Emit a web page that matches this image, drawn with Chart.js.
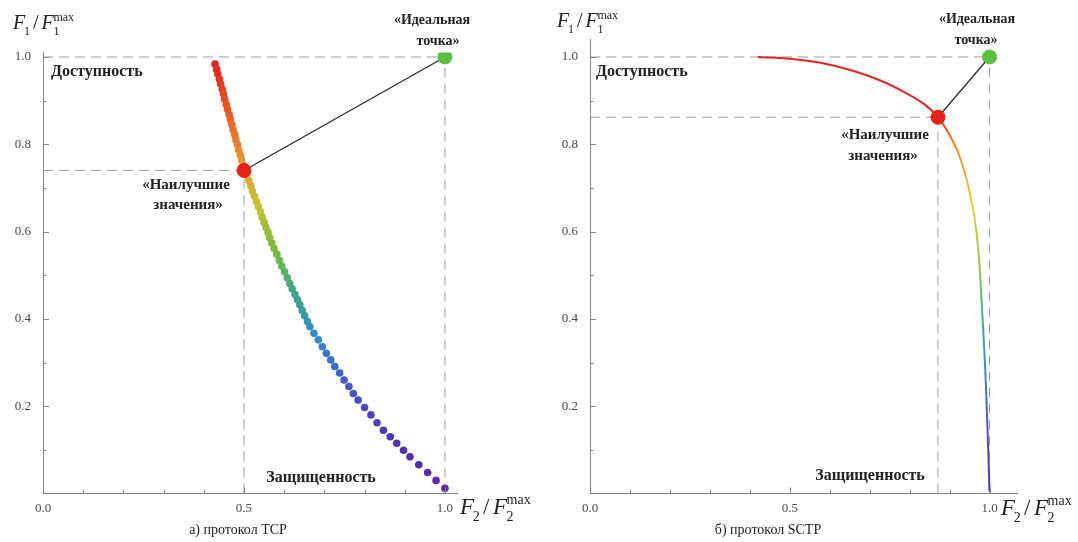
<!DOCTYPE html>
<html>
<head>
<meta charset="utf-8">
<script src="https://cdn.jsdelivr.net/npm/chart.js@4.4.0/dist/chart.umd.min.js"></script>
<style>
  html, body { margin: 0; padding: 0; background: #fff; }
  #wrap { position: relative; width: 1078px; height: 542px; }
  .box { position: absolute; top: 0; height: 542px; }
  #boxL { left: 0; width: 540px; }
  #boxR { left: 540px; width: 538px; }
</style>
</head>
<body>
<div id="wrap">
  <div class="box" id="boxL"><canvas id="tcpChart"></canvas></div>
  <div class="box" id="boxR"><canvas id="sctpChart"></canvas></div>
</div>
<script>
// ========================== Data ==========================

// а) TCP – Pareto front, F2/F2max (x) and F1/F1max (y), one value per dot
const tcpF2 = [
  0.428, 0.432, 0.435, 0.439, 0.442, 0.446, 0.449, 0.452, 0.456, 0.459, 0.463,
  0.466, 0.470, 0.473, 0.477, 0.480, 0.484, 0.487, 0.491, 0.494, 0.498, 0.502,
  0.507, 0.512, 0.517, 0.521, 0.526, 0.531, 0.536, 0.541, 0.545, 0.550, 0.555,
  0.560, 0.564, 0.569, 0.575, 0.582, 0.588, 0.594, 0.601, 0.608, 0.614, 0.620,
  0.627, 0.633, 0.639, 0.645, 0.651, 0.658, 0.664, 0.674, 0.685, 0.695, 0.705,
  0.716, 0.726, 0.738, 0.749, 0.761, 0.772, 0.784, 0.800, 0.816, 0.831, 0.847,
  0.864, 0.880, 0.897, 0.913, 0.935, 0.957, 0.978, 1.000
];
const tcpF1 = [
  0.984, 0.972, 0.961, 0.949, 0.938, 0.926, 0.915, 0.903, 0.891, 0.880, 0.868,
  0.857, 0.845, 0.833, 0.822, 0.810, 0.799, 0.787, 0.775, 0.764, 0.752, 0.741,
  0.729, 0.717, 0.705, 0.693, 0.681, 0.669, 0.657, 0.645, 0.633, 0.621, 0.609,
  0.598, 0.586, 0.574, 0.561, 0.548, 0.534, 0.521, 0.508, 0.494, 0.481, 0.469,
  0.456, 0.444, 0.432, 0.419, 0.407, 0.394, 0.382, 0.367, 0.352, 0.336, 0.321,
  0.306, 0.291, 0.276, 0.260, 0.245, 0.229, 0.214, 0.197, 0.180, 0.162, 0.145,
  0.130, 0.115, 0.099, 0.084, 0.066, 0.048, 0.030, 0.012
];

// б) SCTP – Pareto front drawn as a curve
const sctpF2 = [0.42, 0.50, 0.58, 0.66, 0.73, 0.79, 0.835, 0.871, 0.897, 0.922, 0.945, 0.962, 0.972, 0.980, 0.989, 0.995, 1.000];
const sctpF1 = [1.00, 0.996, 0.986, 0.968, 0.945, 0.918, 0.893, 0.862, 0.826, 0.780, 0.711, 0.633, 0.558, 0.443, 0.290, 0.145, 0.005];

const idealPoint = [1.0, 1.0];
const tcpBest = [0.50, 0.74];
const sctpBest = [0.871, 0.862];

const xTickValues = [0, 0.5, 1.0];
const yTickValues = [0.2, 0.4, 0.6, 0.8, 1.0];
const xSmallTicks = [0.1, 0.2, 0.3, 0.4, 0.5, 0.6, 0.7, 0.8, 0.9, 1.0];
const ySmallTicks = [0.1, 0.2, 0.3, 0.4, 0.5, 0.6, 0.7, 0.8, 0.9, 1.0];

// ========================== Styles ==========================

const SERIF = '"Liberation Serif", "DejaVu Serif", serif';
const AXIS = '#8c8282';
const GUIDE = '#a39a9a';
const TEXT = '#222';

// colour along the front, keyed by F1 value (top red -> bottom violet)
const RAINBOW = [
  [1.00, [222, 28, 30]],
  [0.88, [232, 88, 36]],
  [0.76, [234, 150, 48]],
  [0.66, [196, 196, 52]],
  [0.56, [122, 186, 62]],
  [0.46, [62, 168, 128]],
  [0.36, [52, 140, 200]],
  [0.26, [66, 92, 200]],
  [0.13, [82, 52, 178]],
  [0.00, [96, 40, 166]]
];

function rainbowAt(v) {
  for (let i = 0; i < RAINBOW.length - 1; i++) {
    const [v0, c0] = RAINBOW[i];
    const [v1, c1] = RAINBOW[i + 1];
    if (v <= v0 && v >= v1) {
      const t = (v0 - v) / (v0 - v1);
      const c = c0.map((a, k) => Math.round(a + (c1[k] - a) * t));
      return `rgb(${c[0]},${c[1]},${c[2]})`;
    }
  }
  return 'rgb(96,40,166)';
}

const SCTP_STOPS = [
  [1.00, '#e0261f'], [0.87, '#e0261f'], [0.80, '#ef8a2a'], [0.66, '#e8cf3a'],
  [0.50, '#8cc24a'], [0.40, '#3fae9a'], [0.28, '#3f86d0'], [0.15, '#4a52c0'], [0.00, '#5a2ea8']
];

function toPoints(xs, ys) {
  return xs.map((x, i) => ({ x, y: ys[i] }));
}

// ========================== Plugins ==========================

function drawRatio(ctx, x, y, sub, size) {
  ctx.save();
  ctx.fillStyle = TEXT;
  ctx.textBaseline = 'alphabetic';
  ctx.textAlign = 'left';
  const small = Math.round(size * 0.6);
  ctx.font = `italic ${size}px ${SERIF}`;
  ctx.fillText('F', x, y);
  x += ctx.measureText('F').width - size * 0.06;
  ctx.font = `${small}px ${SERIF}`;
  ctx.fillText(sub, x, y + size * 0.3);
  x += ctx.measureText(sub).width + size * 0.15;
  ctx.font = `${size}px ${SERIF}`;
  ctx.fillText('/', x, y);
  x += ctx.measureText('/').width + size * 0.15;
  ctx.font = `italic ${size}px ${SERIF}`;
  ctx.fillText('F', x, y);
  x += ctx.measureText('F').width - size * 0.02;
  ctx.font = `${small}px ${SERIF}`;
  ctx.fillText(sub, x, y + size * 0.3);
  ctx.fillText('max', x, y - size * 0.42);
  ctx.restore();
}

const decorPlugin = {
  id: 'decor',
  afterDraw(chart, args, opts) {
    const { ctx, chartArea, scales } = chart;
    const xs = scales.x, ys = scales.y;
    ctx.save();
    // inward tick marks
    ctx.strokeStyle = AXIS;
    ctx.lineWidth = 1;
    ctx.beginPath();
    xSmallTicks.forEach(v => {
      const px = Math.round(xs.getPixelForValue(v)) + 0.5;
      const len = xTickValues.includes(v) ? 6 : 3.5;
      ctx.moveTo(px, chartArea.bottom);
      ctx.lineTo(px, chartArea.bottom - len);
    });
    ySmallTicks.forEach((v, i) => {
      const py = Math.round(ys.getPixelForValue(v)) + 0.5;
      const len = (i % 2 === 1) ? 6 : 3.5;
      ctx.moveTo(chartArea.left, py);
      ctx.lineTo(chartArea.left + len, py);
    });
    ctx.stroke();

    // axis titles
    drawRatio(ctx, opts.yTitle[0], opts.yTitle[1], '1', 20);
    drawRatio(ctx, opts.xTitle[0], opts.xTitle[1], '2', 23);

    // annotations
    ctx.fillStyle = TEXT;
    ctx.textBaseline = 'middle';
    opts.notes.forEach(n => {
      ctx.font = `${n.bold ? 'bold ' : ''}${n.size}px ${SERIF}`;
      ctx.textAlign = n.align || 'left';
      ctx.fillText(n.text, n.x, n.y);
    });
    ctx.restore();
  }
};

// ========================== Chart factory ==========================

function makeChart(canvasId, cfg) {
  const ctx = document.getElementById(canvasId).getContext('2d');
  const best = cfg.best;
  const guides = [
    { pts: [{ x: 0, y: idealPoint[1] }, { x: idealPoint[0], y: idealPoint[1] }] },
    { pts: [{ x: idealPoint[0], y: 0 }, { x: idealPoint[0], y: idealPoint[1] }] },
    { pts: [{ x: 0, y: best[1] }, { x: best[0], y: best[1] }] },
    { pts: [{ x: best[0], y: 0 }, { x: best[0], y: best[1] }] }
  ];

  const datasets = [
    {
      label: 'ideal',
      data: [{ x: idealPoint[0], y: idealPoint[1] }],
      showLine: false,
      pointRadius: 7,
      pointBackgroundColor: '#5cbf3e',
      pointBorderColor: '#5cbf3e',
      order: 0
    },
    {
      label: 'best',
      data: [{ x: best[0], y: best[1] }],
      showLine: false,
      pointRadius: 7,
      pointBackgroundColor: '#e5211c',
      pointBorderColor: '#e5211c',
      order: 1
    },
    {
      label: 'link',
      data: [{ x: best[0], y: best[1] }, { x: idealPoint[0], y: idealPoint[1] }],
      showLine: true,
      borderColor: '#2c2c2c',
      borderWidth: 1.3,
      pointRadius: 0,
      order: 2
    },
    cfg.front,
    ...guides.map((g, i) => ({
      label: 'guide' + i,
      data: g.pts,
      showLine: true,
      borderColor: GUIDE,
      borderWidth: 1,
      borderDash: [10, 6],
      pointRadius: 0,
      order: 10 + i
    }))
  ];

  return new Chart(ctx, {
    type: 'scatter',
    data: { datasets },
    options: {
      responsive: true,
      maintainAspectRatio: false,
      animation: false,
      events: [],
      layout: { padding: cfg.padding },
      plugins: {
        legend: { display: false },
        tooltip: { enabled: false },
        decor: cfg.decor
      },
      scales: {
        x: {
          type: 'linear',
          min: 0,
          max: cfg.xMax,
          afterBuildTicks: s => { s.ticks = xTickValues.map(v => ({ value: v })); },
          afterFit: s => { s.height = 48.5; },
          grid: { display: false, drawTicks: false },
          border: { display: true, color: AXIS, width: 1 },
          ticks: {
            font: { family: SERIF, size: 13 },
            color: '#4a4a4a',
            padding: 7,
            maxRotation: 0,
            callback: v => v.toFixed(1)
          }
        },
        y: {
          type: 'linear',
          min: 0,
          max: cfg.yMax,
          afterBuildTicks: s => { s.ticks = yTickValues.map(v => ({ value: v })); },
          afterFit: s => { s.width = cfg.yWidth; },
          grid: { display: false, drawTicks: false },
          border: { display: true, color: AXIS, width: 1 },
          ticks: {
            font: { family: SERIF, size: 13 },
            color: '#4a4a4a',
            padding: 12,
            callback: v => v.toFixed(1)
          }
        }
      }
    },
    plugins: [decorPlugin]
  });
}

// ========================== Charts ==========================

makeChart('tcpChart', {
  best: tcpBest,
  xMax: 1.03,
  yMax: 1.01,
  yWidth: 43,
  padding: { top: 52.6, right: 83, bottom: 0, left: 0 },
  front: {
    label: 'TCP',
    data: toPoints(tcpF2, tcpF1),
    showLine: false,
    pointRadius: 3.8,
    pointBorderWidth: 0,
    pointBackgroundColor: tcpF1.map(v => rainbowAt(v)),
    order: 3
  },
  decor: {
    yTitle: [13, 29],
    xTitle: [460, 514],
    notes: [
      { text: 'Доступность', x: 51, y: 72, size: 16, bold: true },
      { text: '«Идеальная', x: 432, y: 20, size: 14, bold: true, align: 'center' },
      { text: 'точка»', x: 438, y: 41, size: 14, bold: true, align: 'center' },
      { text: '«Наилучшие', x: 186, y: 185, size: 15, bold: true, align: 'center' },
      { text: 'значения»', x: 188, y: 205, size: 15, bold: true, align: 'center' },
      { text: 'Защищенность', x: 321, y: 478, size: 16, bold: true, align: 'center' },
      { text: 'а) протокол TCP', x: 238, y: 530, size: 14, align: 'center' }
    ]
  }
});

makeChart('sctpChart', {
  best: sctpBest,
  xMax: 1.07,
  yMax: 1.04,
  yWidth: 50,
  padding: { top: 39.5, right: 60.5, bottom: 0, left: 0 },
  front: {
    label: 'SCTP',
    data: toPoints(sctpF2, sctpF1),
    showLine: true,
    tension: 0.35,
    borderWidth: 2,
    pointRadius: 0,
    borderColor: c => {
      const { chart } = c;
      const ys = chart.scales.y;
      if (!chart.chartArea || !ys) return SCTP_STOPS[0][1];
      const top = ys.getPixelForValue(1), bottom = ys.getPixelForValue(0);
      const g = chart.ctx.createLinearGradient(0, top, 0, bottom);
      SCTP_STOPS.forEach(([v, col]) => g.addColorStop(1 - v, col));
      return g;
    },
    order: 3
  },
  decor: {
    yTitle: [17, 27],
    xTitle: [461, 515],
    notes: [
      { text: 'Доступность', x: 56, y: 72, size: 16, bold: true },
      { text: '«Идеальная', x: 437, y: 19, size: 14, bold: true, align: 'center' },
      { text: 'точка»', x: 436, y: 40, size: 14, bold: true, align: 'center' },
      { text: '«Наилучшие', x: 345, y: 135, size: 15, bold: true, align: 'center' },
      { text: 'значения»', x: 343, y: 156, size: 15, bold: true, align: 'center' },
      { text: 'Защищенность', x: 330, y: 476, size: 16, bold: true, align: 'center' },
      { text: 'б) протокол SCTP', x: 228, y: 530, size: 14, align: 'center' }
    ]
  }
});
</script>
</body>
</html>
